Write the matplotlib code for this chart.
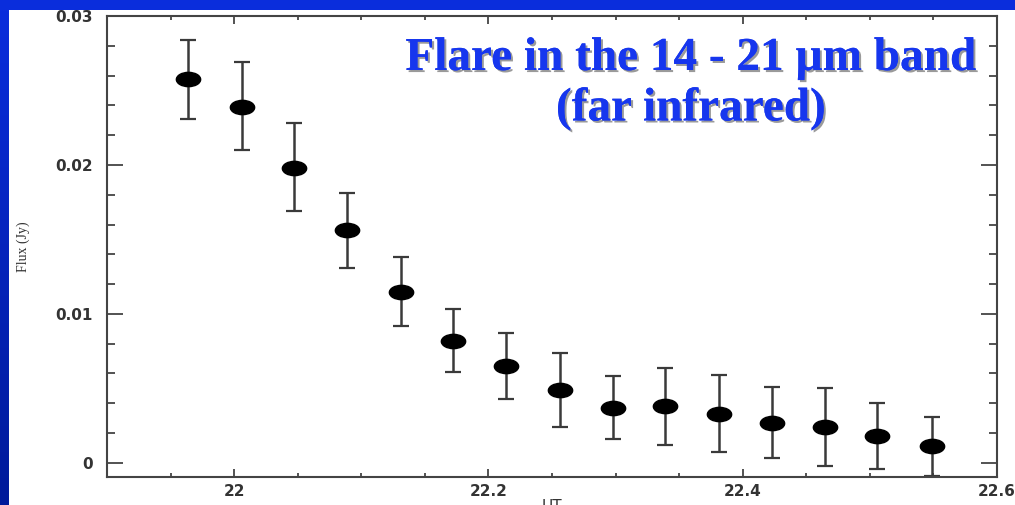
import numpy as np
import matplotlib
matplotlib.use("Agg")
import matplotlib.pyplot as plt
import matplotlib.patheffects as pe
from matplotlib.path import Path
from matplotlib.transforms import Affine2D
from matplotlib.patches import Rectangle
from matplotlib.colors import LinearSegmentedColormap
from matplotlib.ticker import MultipleLocator, FixedFormatter, FixedLocator

# data
ut = [21.964, 22.006, 22.047, 22.089, 22.131, 22.172, 22.214, 22.256,
      22.298, 22.339, 22.381, 22.423, 22.465, 22.506, 22.549]
flux = [0.0258, 0.0239, 0.0198, 0.0156, 0.0115, 0.0082, 0.0065, 0.0049,
        0.0037, 0.0038, 0.0033, 0.0027, 0.0024, 0.0018, 0.0011]
flux_hi = [0.0284, 0.0269, 0.0228, 0.0181, 0.0138, 0.0103, 0.0087, 0.0074,
           0.0058, 0.0064, 0.0059, 0.0051, 0.0050, 0.0040, 0.0031]
flux_lo = [0.0231, 0.0210, 0.0169, 0.0131, 0.0092, 0.0061, 0.0043, 0.0024,
           0.0016, 0.0012, 0.0007, 0.0003, -0.0002, -0.0004, -0.0009]

xticks = [22.0, 22.2, 22.4, 22.6]
xticklabels = ["22", "22.2", "22.4", "22.6"]
yticks = [0.0, 0.01, 0.02, 0.03]
yticklabels = ["0", "0.01", "0.02", "0.03"]

W, H = 1015, 505
fig = plt.figure(figsize=(W / 100, H / 100), dpi=100)
fig.patch.set_facecolor("#0A2DDC")

# white slide area
fig.patches.append(Rectangle((9 / W, 0), 1, (H - 10) / H, transform=fig.transFigure,
                             facecolor="white", edgecolor="none", zorder=-10))

# darker gradient on the left strip
gax = fig.add_axes([0, 0, 9 / W, (H - 10) / H])
grad = np.linspace(0, 1, 256).reshape(-1, 1)
cm = LinearSegmentedColormap.from_list("edge", ["#0A2DDC", "#001A9A"])
gax.imshow(grad, aspect="auto", cmap=cm, extent=[0, 1, 0, 1])
gax.axis("off")

ax = fig.add_axes([107 / W, (H - 477) / H, 890 / W, 461 / H])
ax.set_facecolor("white")

yerr = [np.array(flux) - np.array(flux_lo), np.array(flux_hi) - np.array(flux)]
oval = Path.unit_circle().transformed(Affine2D().scale(1.7, 1.0))
ax.errorbar(ut, flux, yerr=yerr, fmt="none", ecolor="#3a3a3a",
            elinewidth=1.8, capsize=6, capthick=1.6, zorder=2)
ax.plot(ut, flux, linestyle="none", marker=oval, markersize=17.5,
        color="black", zorder=3)

ax.set_xlim(21.9, 22.6)
ax.set_ylim(-0.00095, 0.03)

ax.xaxis.set_major_locator(FixedLocator(xticks))
ax.xaxis.set_major_formatter(FixedFormatter(xticklabels))
ax.xaxis.set_minor_locator(MultipleLocator(0.05))
ax.yaxis.set_major_locator(FixedLocator(yticks))
ax.yaxis.set_major_formatter(FixedFormatter(yticklabels))
ax.yaxis.set_minor_locator(MultipleLocator(0.002))

ax.tick_params(axis="both", which="both", direction="in", color="#444444",
               width=1.3, top=True, right=True, labelcolor="#333333")
ax.tick_params(axis="x", which="major", length=5.5, pad=5, labelsize=11)
ax.tick_params(axis="x", which="minor", length=2.8)
ax.tick_params(axis="y", which="major", length=11.5, pad=10, labelsize=11)
ax.tick_params(axis="y", which="minor", length=5.8)
for lab in ax.get_xticklabels() + ax.get_yticklabels():
    lab.set_fontweight("semibold")
for s in ax.spines.values():
    s.set_color("#444444")
    s.set_linewidth(1.5)

ax.set_xlabel("UT", fontsize=11, color="#333333", labelpad=0)
fig.text(23 / W, 1 - 247 / H, "Flux (Jy)", rotation=90, ha="center", va="center",
         fontsize=10, family="Liberation Serif", color="#333333")

title = "Flare in the 14 - 21 \u00b5m band\n(far infrared)"
fig.text(691 / W, 1 - 38 / H, title, ha="center", va="top", fontsize=34,
         family="Liberation Serif", fontweight="bold", color="#1636EE",
         linespacing=1.25, multialignment="center",
         path_effects=[pe.withSimplePatchShadow(offset=(1.5, -1.5), shadow_rgbFace="#202020",
                                                alpha=0.45), pe.Normal()])

fig.savefig("out.png", dpi=100, facecolor=fig.get_facecolor())
